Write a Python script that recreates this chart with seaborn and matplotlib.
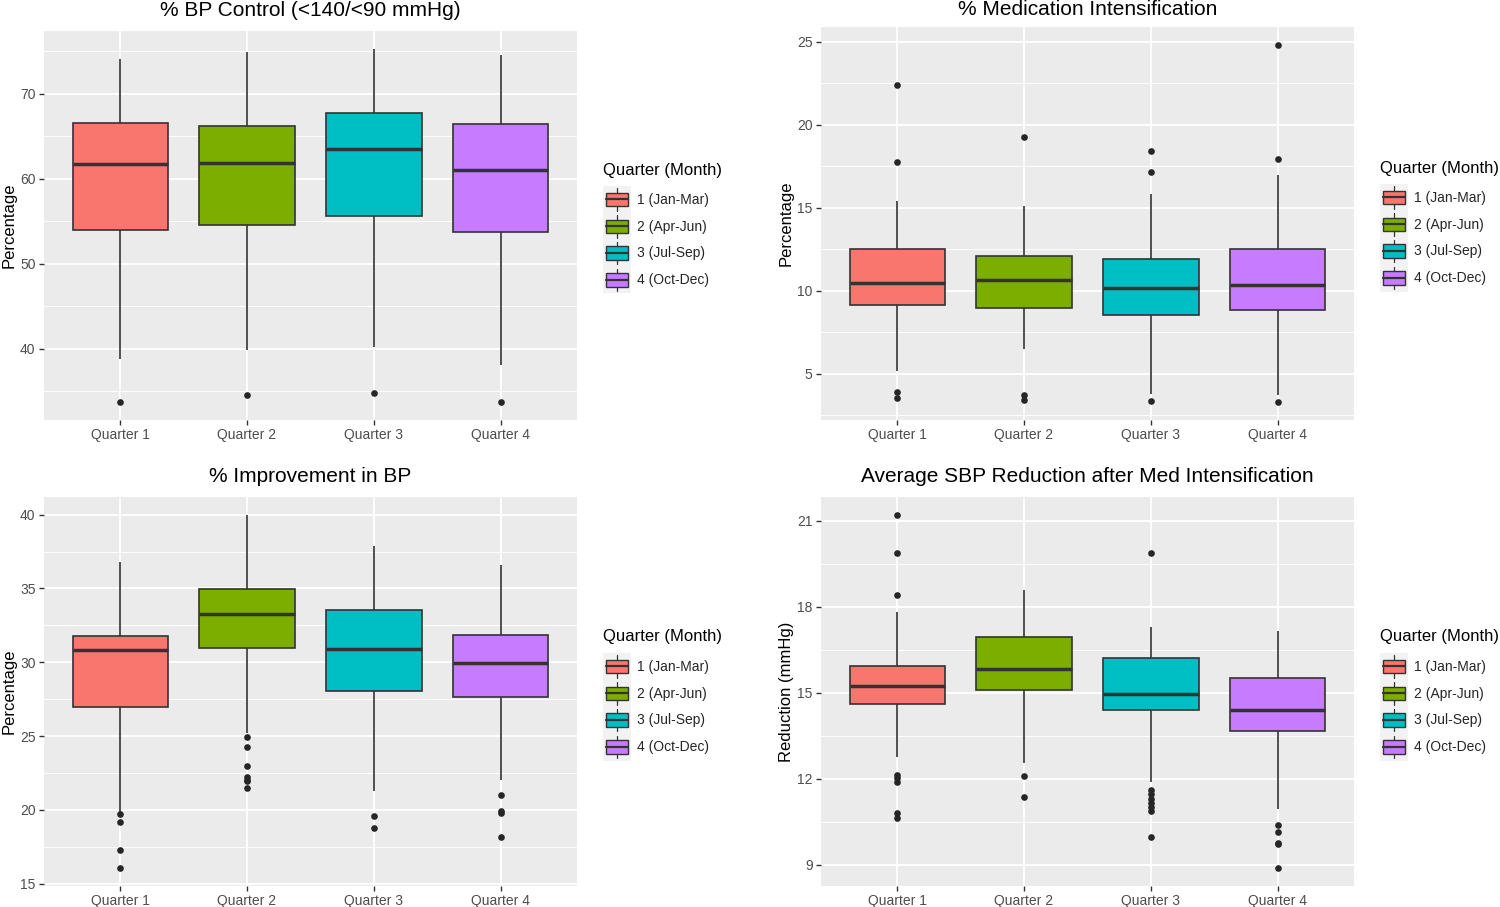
import numpy as np
import pandas as pd
import matplotlib
matplotlib.use("Agg")
import matplotlib.pyplot as plt
import seaborn as sns
from matplotlib.patches import Patch, Rectangle
from matplotlib.lines import Line2D
from matplotlib.legend_handler import HandlerBase
from matplotlib.ticker import MultipleLocator

# ---------------- data ----------------
QUARTERS = ["Quarter 1", "Quarter 2", "Quarter 3", "Quarter 4"]
LEGEND_LABELS = ["1 (Jan-Mar)", "2 (Apr-Jun)", "3 (Jul-Sep)", "4 (Oct-Dec)"]
COLORS = ["#F8766D", "#7CAE00", "#00BFC4", "#C77CFF"]

# five-number summaries per quarter: [lower whisker, Q1, median, Q3, upper whisker]
bp_control_box = [
    [38.8, 54.0, 61.75, 66.6, 74.1],
    [39.8, 54.5, 61.8, 66.15, 74.9],
    [40.2, 55.6, 63.5, 67.7, 75.3],
    [38.1, 53.75, 61.05, 66.4, 74.6],
]
bp_control_out = [[33.7], [34.55], [34.8], [33.7]]

med_int_box = [
    [5.2, 9.12, 10.47, 12.53, 15.43],
    [6.5, 8.98, 10.66, 12.1, 15.09],
    [3.78, 8.54, 10.18, 11.91, 15.81],
    [3.74, 8.83, 10.33, 12.49, 16.97],
]
med_int_out = [
    [22.36, 17.75, 3.94, 3.52],
    [19.28, 3.74, 3.44],
    [18.39, 17.17, 3.38],
    [24.8, 17.95, 3.3],
]

bp_improve_box = [
    [19.85, 26.99, 30.82, 31.81, 36.79],
    [25.2, 31.0, 33.26, 34.96, 40.0],
    [21.31, 28.03, 30.88, 33.53, 37.87],
    [21.99, 27.64, 29.95, 31.85, 36.61],
]
bp_improve_out = [
    [19.73, 19.19, 17.3, 16.04],
    [24.96, 24.25, 22.97, 22.2, 22.05, 21.95, 21.47],
    [19.57, 18.78],
    [20.99, 19.9, 19.8, 18.17],
]

sbp_red_box = [
    [12.76, 14.6, 15.23, 15.93, 17.81],
    [12.53, 15.09, 15.84, 16.95, 18.58],
    [11.88, 14.4, 14.95, 16.2, 17.28],
    [10.93, 13.67, 14.38, 15.5, 17.16],
]
sbp_red_out = [
    [21.21, 19.88, 18.42, 12.12, 12.01, 11.88, 10.79, 10.62],
    [12.1, 11.35],
    [19.88, 11.6, 11.45, 11.3, 11.16, 11.02, 10.87, 9.98],
    [10.38, 10.14, 9.77, 9.72, 8.87],
]

TITLES = ["% BP Control (<140/<90 mmHg)", "% Medication Intensification",
          "% Improvement in BP", "Average SBP Reduction after Med Intensification"]
YLABELS = ["Percentage", "Percentage", "Percentage", "Reduction (mmHg)"]
LEGEND_TITLE = "Quarter (Month)"

# ---------------- style ----------------
sns.set_style("darkgrid", {"axes.facecolor": "#EBEBEB", "grid.color": "white"})
plt.rcParams["font.family"] = ["Liberation Sans", "DejaVu Sans"]

LINE = "#333333"
KEY_BG = "#F2F2F2"
W, H = 1500, 907
fig = plt.figure(figsize=(W / 100, H / 100), dpi=100)


def fx(px):
    return px / W


def fy(py):
    return 1 - py / H


class BoxKeyHandler(HandlerBase):
    def create_artists(self, legend, orig_handle, xdescent, ydescent,
                       width, height, fontsize, trans):
        x0, y0 = -xdescent, -ydescent
        bg = Rectangle((x0, y0), width, height, facecolor=KEY_BG,
                       edgecolor="none", transform=trans)
        bw = width * 0.80
        bh = height * 0.50
        bx = x0 + (width - bw) / 2
        by = y0 + (height - bh) / 2
        box = Rectangle((bx, by), bw, bh, facecolor=orig_handle.get_facecolor(),
                        edgecolor=LINE, lw=1.0, transform=trans)
        cx = x0 + width / 2
        med = Line2D([bx, bx + bw], [by + bh / 2] * 2, color=LINE, lw=1.6,
                     transform=trans)
        wt = Line2D([cx, cx], [by + bh, y0 + height * 0.92], color=LINE, lw=0.9,
                    transform=trans)
        wb = Line2D([cx, cx], [y0 + height * 0.08, by], color=LINE, lw=0.9,
                    transform=trans)
        return [bg, box, med, wt, wb]


def panel(rect, box_stats, outliers, title, ylabel, major, title_pad,
          legend_x, legend_title_y):
    l, t, r, b = rect
    ax = fig.add_axes([fx(l), fy(b), fx(r) - fx(l), fy(t) - fy(b)])
    rows = []
    for q, stats in zip(QUARTERS, box_stats):
        for v in stats:
            rows.append((q, v))
    df = pd.DataFrame(rows, columns=["quarter", "value"])
    orows = []
    for q, vals in zip(QUARTERS, outliers):
        for v in vals:
            orows.append((q, v))
    odf = pd.DataFrame(orows, columns=["quarter", "value"])

    sns.boxplot(data=df, x="quarter", y="value", hue="quarter", order=QUARTERS,
                hue_order=QUARTERS, palette=COLORS, dodge=False, width=0.75,
                whis=(0, 100), saturation=1, linecolor=LINE, linewidth=1.2,
                fliersize=0, legend=False, showcaps=False,
                medianprops=dict(linewidth=2.5, color=LINE), ax=ax, zorder=2)
    sns.stripplot(data=odf, x="quarter", y="value", order=QUARTERS, jitter=False,
                  color="#262626", size=4.8, linewidth=0, ax=ax, zorder=3)

    allv = np.concatenate([np.ravel(box_stats)] + [np.array(o) for o in outliers])
    lo, hi = allv.min(), allv.max()
    pad = 0.05 * (hi - lo)
    ax.set_ylim(lo - pad, hi + pad)
    ax.set_xlim(-0.6, 3.6)

    ax.yaxis.set_major_locator(MultipleLocator(major))
    ax.yaxis.set_minor_locator(MultipleLocator(major / 2))
    ax.set_axisbelow(True)
    ax.grid(which="major", color="white", linewidth=1.3)
    ax.grid(which="minor", axis="y", color="white", linewidth=0.65)
    ax.xaxis.grid(True, which="major", color="white", linewidth=1.3)
    for s in ax.spines.values():
        s.set_visible(False)
    ax.tick_params(axis="both", which="major", length=3.6, width=1.0,
                   color=LINE, labelcolor="#4D4D4D", labelsize=10, pad=2.5,
                   left=True, bottom=True)
    ax.tick_params(axis="y", which="minor", length=0, left=False)

    ax.set_xlabel("")
    ax.set_ylabel(ylabel, fontsize=12, color="black")
    ax.yaxis.set_label_coords(-0.051, 0.5)
    ax.set_title(title, fontsize=15, color="black", pad=title_pad)

    handles = [Patch(facecolor=c) for c in COLORS]
    fig.text(fx(legend_x), fy(legend_title_y), LEGEND_TITLE, fontsize=12,
             ha="left", va="center", color="black")
    fig.legend(handles, LEGEND_LABELS, handler_map={Patch: BoxKeyHandler()},
               loc="upper left",
               bbox_to_anchor=(fx(legend_x), fy(legend_title_y + 16)),
               bbox_transform=fig.transFigure, frameon=False, fontsize=10,
               handlelength=2.0, handleheight=2.6, labelspacing=0.0,
               handletextpad=0.45, borderpad=0.0, borderaxespad=0.0)
    return ax


panel((44, 31, 577, 420), bp_control_box, bp_control_out, TITLES[0], YLABELS[0],
      10, 11.0, 603, 170)
panel((821, 27, 1354, 420), med_int_box, med_int_out, TITLES[1], YLABELS[1],
      5, 8.3, 1380, 168)
panel((44, 497, 577, 886), bp_improve_box, bp_improve_out, TITLES[2], YLABELS[2],
      5, 11.0, 603, 637)
panel((821, 497, 1354, 886), sbp_red_box, sbp_red_out, TITLES[3], YLABELS[3],
      3, 11.0, 1380, 637)

fig.savefig("out.png", dpi=100)
